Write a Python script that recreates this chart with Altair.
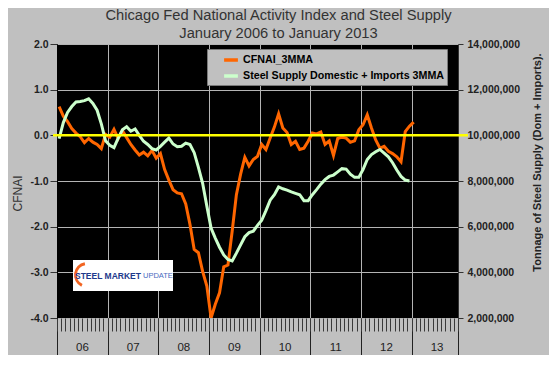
import json
import altair as alt
import pandas as pd

# ---------------- data ----------------
MONTHS = [f"{2006 + i // 12}-{i % 12 + 1:02d}" for i in range(85)]  # Jan 2006 .. Jan 2013

CFNAI_3MMA = [
    0.63, 0.42, 0.30, 0.15, 0.05, -0.03, -0.16, -0.07, -0.15, -0.20,
    -0.29, 0.02, -0.04, 0.13, -0.07, 0.10, -0.05, -0.20, -0.32, -0.43,
    -0.37, -0.45, -0.33, -0.50, -0.40, -0.75, -0.98, -1.19, -1.26, -1.28,
    -1.50, -1.95, -2.50, -2.57, -2.98, -3.30, -4.00, -3.70, -3.45, -2.88,
    -2.84, -2.10, -1.30, -0.85, -0.48, -0.67, -0.53, -0.46, -0.20, -0.31,
    -0.06, 0.18, 0.47, 0.16, 0.06, -0.20, -0.13, -0.31, -0.28, -0.13,
    0.05, 0.03, 0.07, -0.20, -0.12, -0.44, -0.07, -0.04, -0.06, -0.15,
    -0.12, 0.12, 0.23, 0.45, 0.16, -0.10, -0.28, -0.24, -0.35, -0.40,
    -0.47, -0.58, 0.08, 0.20, 0.29,
]

STEEL_3MMA = [
    9860000, 10560000, 11000000, 11260000, 11460000, 11480000, 11520000, 11600000, 11400000, 11100000,
    10500000, 9760000, 9560000, 9460000, 9880000, 10240000, 10380000, 10180000, 10280000, 10000000,
    9740000, 9600000, 9420000, 9360000, 9520000, 9700000, 9880000, 9620000, 9500000, 9520000,
    9660000, 9600000, 9240000, 8600000, 7900000, 6900000, 5940000, 5500000, 5100000, 4760000,
    4560000, 4500000, 4840000, 5200000, 5560000, 5740000, 5800000, 6060000, 6280000, 6700000,
    7160000, 7400000, 7740000, 7660000, 7600000, 7520000, 7460000, 7400000, 7140000, 7140000,
    7400000, 7620000, 7860000, 8060000, 8200000, 8260000, 8400000, 8540000, 8520000, 8300000,
    8160000, 8160000, 8500000, 8940000, 9160000, 9280000, 9380000, 9220000, 9060000, 8800000,
    8480000, 8200000, 8040000, 8000000,
]

YEAR_LABELS = ["06", "07", "08", "09", "10", "11", "12", "13"]
SERIES = ["CFNAI_3MMA", "Steel Supply Domestic + Imports 3MMA"]
COLORS = ["#FF6600", "#CCFFCC"]
LEFT_TICKS = [-4, -3, -2, -1, 0, 1, 2]
RIGHT_TICKS = [2000000, 4000000, 6000000, 8000000, 10000000, 12000000, 14000000]

df_c = pd.DataFrame({"month": MONTHS, "idx": list(range(len(CFNAI_3MMA))),
                     "cfnai": CFNAI_3MMA, "series": SERIES[0]})
df_s = pd.DataFrame({"month": MONTHS[:len(STEEL_3MMA)], "idx": list(range(len(STEEL_3MMA))),
                     "steel": STEEL_3MMA, "series": SERIES[1]})

W, H = 401, 274
FONT = "Liberation Sans"
GRID = "#B4B4B4"

x_scale = alt.Scale(domain=[-0.5, 94.5], nice=False, zero=False)
color_scale = alt.Scale(domain=SERIES, range=COLORS)

year_ticks = [-0.5 + 12 * k for k in range(8)] + [94.5]
month_ticks = [-0.5 + k for k in range(96)]
label_expr = "datum.value > 90 ? '' : " + json.dumps(YEAR_LABELS) + "[floor((datum.value + 0.5) / 12)]"

legend = alt.Legend(
    orient="none", legendX=150, legendY=5, title=None,
    symbolType="stroke", symbolStrokeWidth=3.5, symbolSize=190,
    labelFont=FONT, labelFontSize=10.7, labelFontWeight="bold", labelColor="#000",
    labelLimit=400,
    fillColor="#C0C0C0", strokeColor="#7A7A7A", padding=2, rowPadding=0,
    symbolOffset=13, labelOffset=3,
)

cf = alt.Chart(df_c).mark_line(strokeWidth=3, clip=True).encode(
    x=alt.X("idx:Q", scale=x_scale, axis=alt.Axis(
        orient="bottom",
        values=year_ticks, title=None, grid=True, gridColor=GRID, gridWidth=1,
        tickSize=38, tickColor="#222", tickWidth=1, domain=False,
        labelExpr=label_expr, labelOffset=25, labelPadding=-9, labelBaseline="middle",
        labelAlign="center", labelFont=FONT, labelFontSize=11.5, labelColor="#222",
        labelOverlap=False, labelFlush=False, labelBound=False)),
    y=alt.Y("cfnai:Q", scale=alt.Scale(domain=[-4, 2], nice=False, zero=False), axis=alt.Axis(
        orient="left", values=LEFT_TICKS,
        labelExpr="(datum.value < 0 ? '-' : '') + format(abs(datum.value), '.1f')",
        grid=True, gridColor=GRID, gridWidth=1, tickSize=7, tickColor="#333",
        domain=True, domainColor="#000", labelFont=FONT, labelFontSize=10.5,
        labelFontWeight="bold", labelColor="#222", labelPadding=2,
        title="CFNAI", titleFont=FONT, titleFontSize=12, titleFontWeight="normal",
        titleColor="#333", titleX=-40, titleY=149, titleAngle=270,
        titleAlign="center", titleBaseline="middle")),
    color=alt.Color("series:N", scale=color_scale, legend=legend),
)

st = alt.Chart(df_s).mark_line(strokeWidth=3, clip=True).encode(
    x=alt.X("idx:Q", scale=x_scale, axis=alt.Axis(
        orient="bottom",
        values=month_ticks, title=None, grid=False, labels=False, domain=False,
        tickSize=13, tickColor="#3A3A3A", tickWidth=1)),
    y=alt.Y("steel:Q", scale=alt.Scale(domain=[2000000, 14000000], nice=False, zero=False), axis=alt.Axis(
        orient="right", values=RIGHT_TICKS, format=",.0f", grid=False, tickSize=5,
        tickColor="#333", domain=True, domainColor="#333", labelFont=FONT,
        labelFontSize=10.5, labelFontWeight="bold", labelColor="#222", labelPadding=4,
        title="Tonnage of Steel Supply (Dom + Imports).", titleFont=FONT,
        titleFontSize=11, titleFontWeight="bold", titleColor="#222",
        titleX=79, titleY=118, titleAngle=270, titleAlign="center", titleBaseline="middle")),
    color=alt.Color("series:N", scale=color_scale, legend=legend),
)

zero_line = alt.Chart(pd.DataFrame({"v": [0]})).mark_rule(color="#FFFF00", strokeWidth=2.5).encode(
    y=alt.Y("v:Q", scale=alt.Scale(domain=[-4, 2], nice=False, zero=False), axis=None),
    x=alt.value(-4), x2=alt.value(W + 10),
)

one = pd.DataFrame({"a": [0]})
logo_box = alt.Chart(one).mark_rect(color="white").encode(
    x=alt.value(16), x2=alt.value(116), y=alt.value(216), y2=alt.value(247))
logo_arc = alt.Chart(one).mark_arc(radius=13, radius2=10, theta=3.6, theta2=6.1, color="#F26522").encode(
    x=alt.value(30), y=alt.value(231))
logo_t1 = alt.Chart(one).mark_text(text="STEEL MARKET", font=FONT, fontSize=8.5, fontWeight="bold",
                                   color="#1E3A8C", align="left", baseline="middle").encode(
    x=alt.value(18), y=alt.value(232))
logo_t2 = alt.Chart(one).mark_text(text="UPDATE", font=FONT, fontSize=7.5, fontWeight="normal",
                                   color="#4A6CC0", align="left", baseline="middle").encode(
    x=alt.value(86), y=alt.value(232))

chart = alt.layer(cf, st, zero_line, logo_box, logo_arc, logo_t1, logo_t2).resolve_scale(
    y="independent"
).resolve_axis(x="independent", y="independent").properties(
    width=W, height=H,
    autosize=alt.AutoSizeParams(type="none"),
    padding={"left": 49, "top": 36, "right": 91, "bottom": 37},
    background="#C0C0C0",
    title=alt.Title(
        ["Chicago Fed National Activity Index and Steel Supply", "January 2006 to January 2013"],
        font=FONT, fontSize=14.7, fontWeight="normal", color="#333", anchor="middle",
        dx=21, dy=2, offset=0, lineHeight=18),
).configure_view(fill="#000000", stroke=None)

chart.save("out.html", embed_options={"renderer": "svg", "actions": False})
